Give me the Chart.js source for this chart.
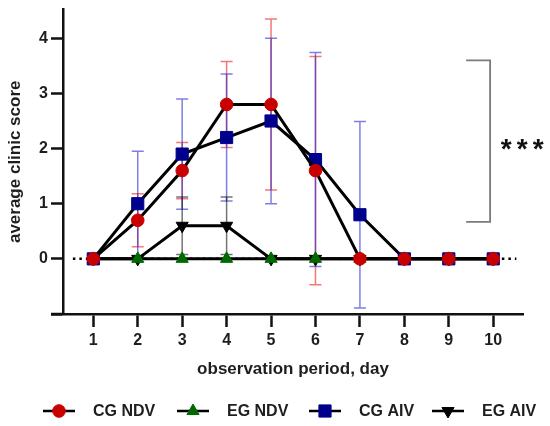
<!DOCTYPE html>
<html><head><meta charset="utf-8">
<script src="https://cdn.jsdelivr.net/npm/chart.js@4.4.0/dist/chart.umd.min.js"></script>
<style>html,body{margin:0;padding:0;background:#fff;} #wrap{width:550px;height:426px;position:relative;}</style>
</head><body><div id="wrap"><canvas id="c" width="550" height="426"></canvas></div>
<script>
// ---- data ----
const days = [1,2,3,4,5,6,7,8,9,10];
const yTickValues = [-1,0,1,2,3,4];
const seriesNames = ['CG NDV','EG NDV','CG AIV','EG AIV'];
const cgNdv   = [0,0.7,1.6,2.8,2.8,1.6,0,0,0,0];
const cgNdvSd = [0,0.48,0.51,0.78,1.55,2.07,0,0,0,0];
const egNdv   = [0,0,0,0,0,0,0,0,0,0];
const egNdvSd = [0,0,0,0,0,0,0,0,0,0];
const cgAiv   = [0,1.0,1.9,2.2,2.5,1.8,0.8,0,0,0];
const cgAivSd = [0,0.95,1.0,1.15,1.5,1.94,1.69,0,0,0];
const egAiv   = [0,0,0.6,0.6,0,0,0,0,0,0];
const egAivSd = [0,0,0.52,0.52,0,0,0,0,0,0];
const sigLabel = '*';
const sigRange = [0.67, 3.6];   // bracket span (score units)
const sigDays = [9.39, 9.93];   // bracket x span (day units)

const FONT = '"Liberation Sans", Arial, sans-serif';
const TXT = '#1e1e1e';

function pts(vals){ return days.map((d,i)=>({x:d, y:vals[i]})); }

const styles = {
  'CG NDV': {color:'#c80000', err:'rgba(235,30,30,0.6)', style:'circle', radius:6.3, rot:0},
  'EG NDV': {color:'#006a00', err:'rgba(0,0,0,0.5)', style:'triangle', radius:7, rot:0},
  'CG AIV': {color:'#00008c', err:'rgba(40,40,210,0.6)', style:'rect', radius:8.6, rot:0},
  'EG AIV': {color:'#000000', err:'rgba(0,0,0,0.55)', style:'triangle', radius:7, rot:180}
};
const values = {'CG NDV':cgNdv,'EG NDV':egNdv,'CG AIV':cgAiv,'EG AIV':egAiv};
const sds = {'CG NDV':cgNdvSd,'EG NDV':egNdvSd,'CG AIV':cgAivSd,'EG AIV':egAivSd};
const drawOrder = {'CG NDV':0,'CG AIV':1,'EG NDV':2,'EG AIV':3};

const datasets = seriesNames.map(n=>({
  label:n, data:pts(values[n]), sd:sds[n], errColor:styles[n].err,
  borderColor:'#000', borderWidth:3, showLine:true, fill:false, tension:0,
  pointStyle:styles[n].style, pointRotation:styles[n].rot, pointRadius:styles[n].radius,
  pointBackgroundColor:styles[n].color, pointBorderColor:styles[n].color, pointBorderWidth:1,
  order:drawOrder[n], clip:false
}));

const underlay = {
  id:'underlay',
  beforeDatasetsDraw(chart){
    const ctx=chart.ctx, xs=chart.scales.x, ys=chart.scales.y;
    ctx.save();
    // dotted zero line
    ctx.strokeStyle='#000'; ctx.lineWidth=2.5; ctx.setLineDash([2.5,4]);
    const y0=ys.getPixelForValue(0);
    ctx.beginPath(); ctx.moveTo(xs.getPixelForValue(0.54),y0); ctx.lineTo(xs.getPixelForValue(10.52),y0); ctx.stroke();
    ctx.setLineDash([]);
    // error bars
    ctx.lineWidth=1.5;
    chart.data.datasets.forEach(ds=>{
      ctx.strokeStyle=ds.errColor;
      ds.data.forEach((p,j)=>{
        const s=ds.sd[j]; if(!s) return;
        const x=xs.getPixelForValue(p.x), y1=ys.getPixelForValue(p.y+s), y2=ys.getPixelForValue(p.y-s);
        ctx.beginPath();
        ctx.moveTo(x,y1); ctx.lineTo(x,y2);
        ctx.moveTo(x-6,y1); ctx.lineTo(x+6,y1);
        ctx.moveTo(x-6,y2); ctx.lineTo(x+6,y2);
        ctx.stroke();
      });
    });
    ctx.restore();
  },
  afterDraw(chart){
    const ctx=chart.ctx, xs=chart.scales.x, ys=chart.scales.y, ca=chart.chartArea;
    ctx.save();
    // x-axis extension left of y axis
    ctx.strokeStyle='#111'; ctx.lineWidth=2.5;
    ctx.beginPath(); ctx.moveTo(ca.left-12, ca.bottom); ctx.lineTo(ca.left, ca.bottom); ctx.stroke();
    // significance bracket
    const bx1=xs.getPixelForValue(sigDays[0]), bx2=xs.getPixelForValue(sigDays[1]);
    const by1=ys.getPixelForValue(sigRange[1]), by2=ys.getPixelForValue(sigRange[0]);
    ctx.strokeStyle='#7a7a7a'; ctx.lineWidth=1.8;
    ctx.beginPath(); ctx.moveTo(bx1,by1); ctx.lineTo(bx2,by1); ctx.lineTo(bx2,by2); ctx.lineTo(bx1,by2); ctx.stroke();
    ctx.fillStyle='#111'; ctx.font='bold 28px '+FONT; ctx.textAlign='center'; ctx.textBaseline='alphabetic';
    const ym=(by1+by2)/2 + 17;
    [0,1,2].forEach(k=>ctx.fillText(sigLabel, bx2+16+k*16, ym));
    // legend
    const lx=[43,177,309,432], ly=411;
    seriesNames.forEach((n,i)=>{
      const x=lx[i];
      ctx.strokeStyle='#000'; ctx.lineWidth=2.5;
      ctx.beginPath(); ctx.moveTo(x,ly); ctx.lineTo(x+32,ly); ctx.stroke();
      ctx.fillStyle=styles[n].color; ctx.strokeStyle=styles[n].color; ctx.lineWidth=1;
      Chart.helpers.drawPoint(ctx,{pointStyle:styles[n].style, radius:styles[n].radius, rotation:styles[n].rot, borderWidth:1},x+16,ly);
      ctx.fillStyle=TXT; ctx.font='bold 16px '+FONT; ctx.textAlign='left'; ctx.textBaseline='middle';
      ctx.fillText(n, x+50, ly+1);
    });
    ctx.restore();
  }
};

new Chart(document.getElementById('c'), {
  type:'line',
  data:{datasets},
  options:{
    responsive:false, animation:false, devicePixelRatio:1,
    layout:{padding:{top:8,right:27,left:0,bottom:0}},
    plugins:{legend:{display:false}, tooltip:{enabled:false}},
    scales:{
      x:{type:'linear', min:0.318, max:10.67,
        afterBuildTicks:s=>{s.ticks=days.map(v=>({value:v}));},
        afterFit:s=>{s.height=112; s.paddingLeft=0; s.paddingRight=0;},
        grid:{display:true, drawOnChartArea:false, drawTicks:true, tickLength:13, tickWidth:2.5, tickColor:'#111', color:'#111'},
        border:{display:true, color:'#111', width:2.5},
        ticks:{font:{family:FONT,size:16,weight:'bold'}, color:TXT, padding:4, maxRotation:0, autoSkip:false},
        title:{display:true, text:'observation period, day', font:{family:FONT,size:17,weight:'bold'}, color:TXT, padding:{top:0,bottom:46}}
      },
      y:{type:'linear', min:-1, max:4.52,
        afterBuildTicks:s=>{s.ticks=yTickValues.map(v=>({value:v}));},
        afterFit:s=>{s.width=63; s.paddingTop=0; s.paddingBottom=0;},
        grid:{display:true, drawOnChartArea:false, drawTicks:true, tickLength:12, tickWidth:2.5, tickColor:'#111', color:'#111'},
        border:{display:true, color:'#111', width:2.5},
        ticks:{font:{family:FONT,size:16,weight:'bold'}, color:TXT, padding:3, callback:v=> v<0 ? '' : v},
        title:{display:true, text:'average clinic score', font:{family:FONT,size:17,weight:'bold'}, color:TXT, padding:{top:5,bottom:0}}
      }
    }
  },
  plugins:[underlay]
});
</script>
</body></html>
